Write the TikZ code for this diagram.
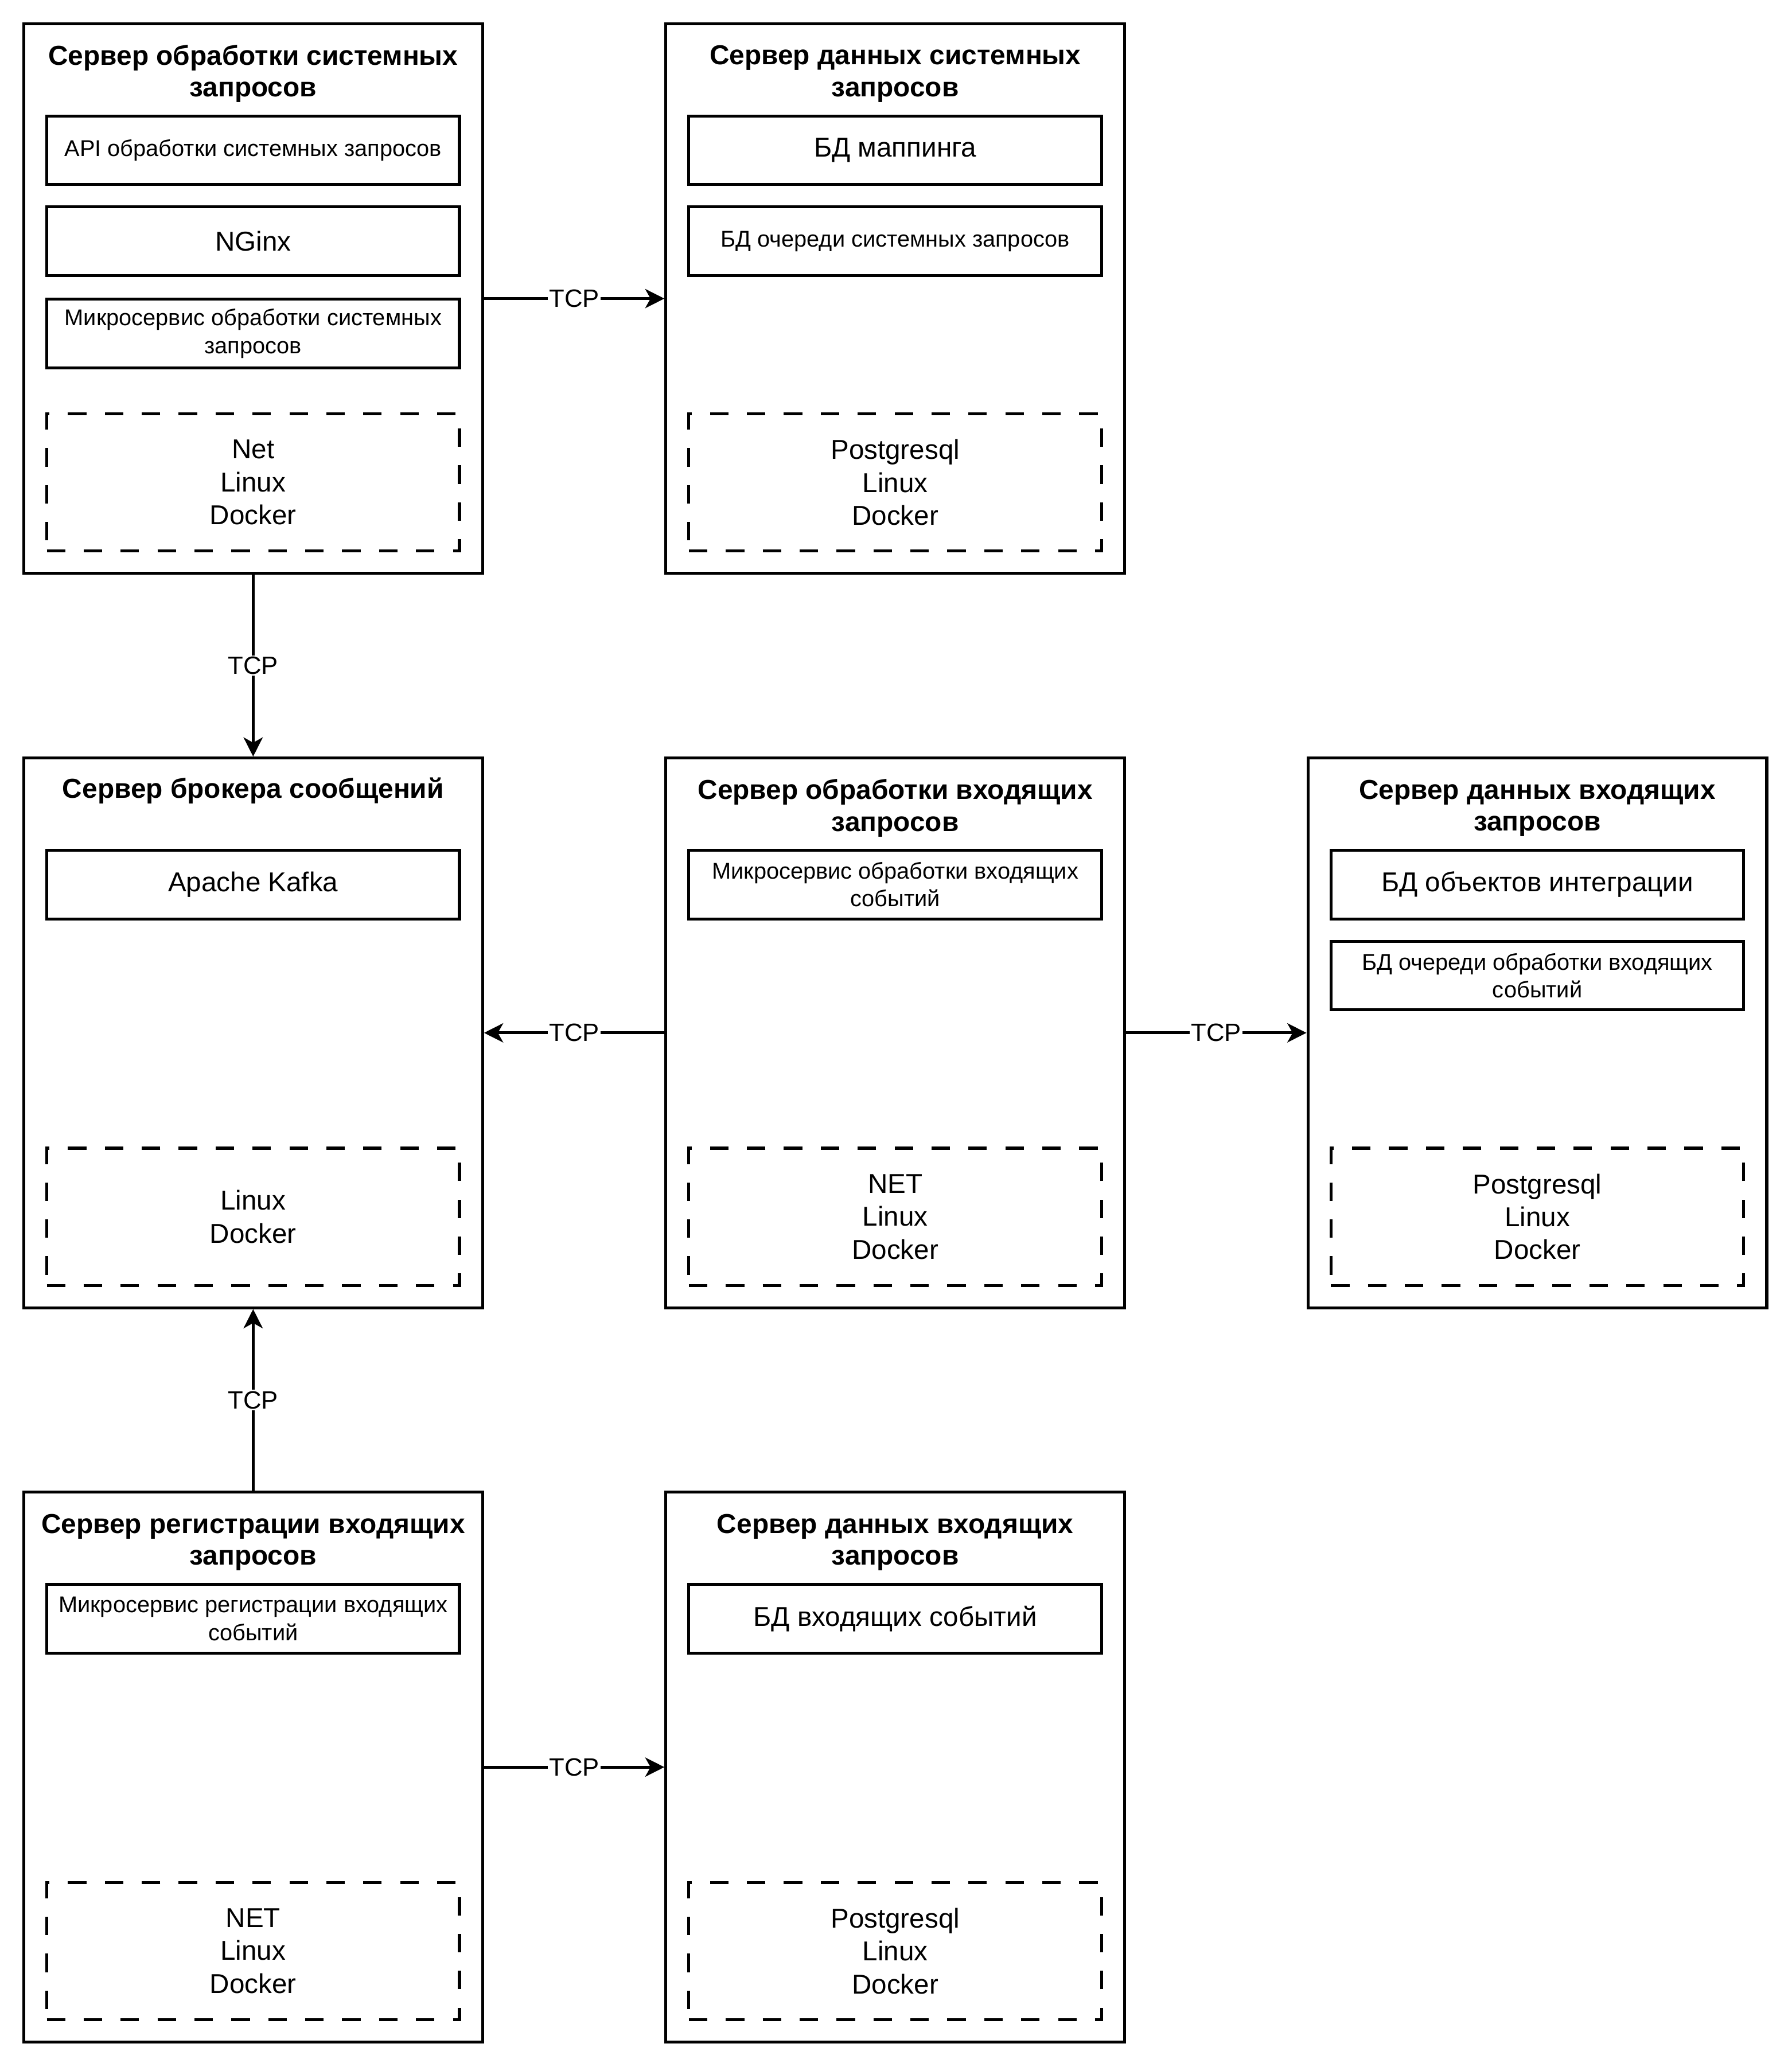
\documentclass[tikz,border=0pt]{standalone}
\usepackage{fontspec}
\setmainfont{Liberation Sans}
\usetikzlibrary{arrows.meta}

\tikzset{
    server/.style = {draw, line width = 2.2pt, minimum width = 348pt, minimum height = 417pt, inner sep = 0pt},
    head/.style = {align = center, font = \bfseries\fontsize{20.8}{24}\selectfont},
    part/.style = {draw, line width = 2.2pt, minimum width = 313pt, minimum height = 52pt, inner sep = 0pt, align = center},
    bigtext/.style = {font = \fontsize{20.7}{24}\selectfont},
    smalltext/.style = {font = \fontsize{17.3}{21}\selectfont},
    stack/.style = {draw, line width = 2.2pt, dash pattern = on 14pt off 14pt, minimum width = 313pt, minimum height = 104pt, inner sep = 0pt, align = center, font = \fontsize{20.7}{25}\selectfont},
    link/.style = {line width = 2.2pt, -{Stealth[length = 14.5pt, width = 14.5pt, inset = 4pt]}},
    tcp/.style = {fill = white, inner sep = 1pt, font = \fontsize{19}{21}\selectfont}
}

\begin{document}
\begin{tikzpicture}[x = 1pt, y = -1pt]

\path[fill = white] (0, 0) rectangle (1359, 1568);
\useasboundingbox (0, 0) rectangle (1359, 1568);

\node[server] (sysproc) at (192, 226.5) {};
\node[head] (sysprocT) at (192, 56) {Сервер обработки системных\\запросов};
\node[part, smalltext] (sysapi) at (192, 114) {API обработки системных запросов};
\node[part, bigtext] (nginx) at (192, 183) {NGinx};
\node[part, smalltext] (sysms) at (192, 253) {Микросервис обработки системных\\запросов};
\node[stack] (sysprocS) at (192, 366) {Net\\Linux\\Docker};

\node[server] (sysdata) at (679, 226.5) {};
\node[head] (sysdataT) at (679, 56) {Сервер данных системных\\запросов};
\node[part, bigtext] (mapdb) at (679, 114) {БД маппинга};
\node[part, smalltext] (sysqueue) at (679, 183) {БД очереди системных запросов};
\node[stack] (sysdataS) at (679, 366) {Postgresql\\Linux\\Docker};

\node[server] (broker) at (192, 783.5) {};
\node[head] (brokerT) at (192, 600) {Сервер брокера сообщений};
\node[part, bigtext] (kafka) at (192, 671) {Apache Kafka};
\node[stack] (brokerS) at (192, 923) {Linux\\Docker};

\node[server] (inproc) at (679, 783.5) {};
\node[head] (inprocT) at (679, 613) {Сервер обработки входящих\\запросов};
\node[part, smalltext] (inms) at (679, 671) {Микросервис обработки входящих\\событий};
\node[stack] (inprocS) at (679, 923) {NET\\Linux\\Docker};

\node[server] (objdata) at (1166, 783.5) {};
\node[head] (objdataT) at (1166, 613) {Сервер данных входящих\\запросов};
\node[part, bigtext] (objdb) at (1166, 671) {БД объектов интеграции};
\node[part, smalltext] (inqueue) at (1166, 740) {БД очереди обработки входящих\\событий};
\node[stack] (objdataS) at (1166, 923) {Postgresql\\Linux\\Docker};

\node[server] (inreg) at (192, 1340.5) {};
\node[head] (inregT) at (192, 1170) {Сервер регистрации входящих\\запросов};
\node[part, smalltext] (regms) at (192, 1228) {Микросервис регистрации входящих\\событий};
\node[stack] (inregS) at (192, 1480) {NET\\Linux\\Docker};

\node[server] (indata) at (679, 1340.5) {};
\node[head] (indataT) at (679, 1170) {Сервер данных входящих\\запросов};
\node[part, bigtext] (eventdb) at (679, 1228) {БД входящих событий};
\node[stack] (indataS) at (679, 1480) {Postgresql\\Linux\\Docker};

\draw[link] (sysproc) -- node[tcp] {TCP} (sysdata);
\draw[link] (sysproc) -- node[tcp] {TCP} (broker);
\draw[link] (inproc) -- node[tcp] {TCP} (broker);
\draw[link] (inproc) -- node[tcp] {TCP} (objdata);
\draw[link] (inreg) -- node[tcp] {TCP} (broker);
\draw[link] (inreg) -- node[tcp] {TCP} (indata);

\end{tikzpicture}
\end{document}
